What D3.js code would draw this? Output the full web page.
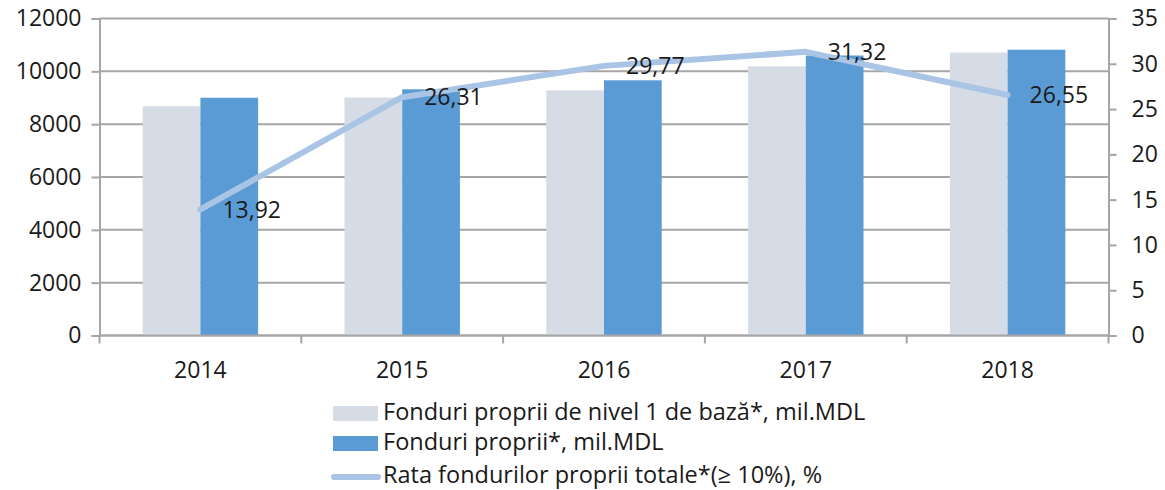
<!DOCTYPE html>
<html>
<head>
<meta charset="utf-8">
<script src="https://cdn.jsdelivr.net/npm/d3@7"></script>
<style>
  body { margin: 0; background: #fff; }
  text { font-family: "Open Sans", "Noto Sans", sans-serif; fill: #1a1a1a; }
</style>
</head>
<body>
<div class="chart"></div>
<script>
// date
var years = ["2014", "2015", "2016", "2017", "2018"];
var fonduriNivel1 = [8680, 9010, 9280, 10190, 10710];
var fonduriProprii = [9000, 9320, 9660, 10600, 10820];
var rata = [13.92, 26.31, 29.77, 31.32, 26.55];
var leftTicks = [0, 2000, 4000, 6000, 8000, 10000, 12000];
var rightTicks = [0, 5, 10, 15, 20, 25, 30, 35];
var legendNames = [
  "Fonduri proprii de nivel 1 de bază*, mil.MDL",
  "Fonduri proprii*, mil.MDL",
  "Rata fondurilor proprii totale*(≥ 10%), %"
];

var width = 1165, height = 490;
var pLeft = 99.5, pRight = 1108.5, pTop = 18.5, pBottom = 335.5;
var cLight = "#d6dce5", cBlue = "#5b9bd5", cLine = "#a9c4e4", cGrid = "#a6a6a6";
var fs = "23px";

var svg = d3.select(".chart").append("svg")
  .attr("width", width)
  .attr("height", height);

var x = d3.scaleBand().domain(years).range([pLeft, pRight]);
var y = d3.scaleLinear().domain([0, 12000]).range([pBottom, pTop]);
var y2 = d3.scaleLinear().domain([0, 35]).range([pBottom, pTop]);
var barW = x.bandwidth() * 0.286;

// grila
svg.append("g").selectAll("line").data(leftTicks).enter().append("line")
  .attr("x1", pLeft).attr("x2", pRight)
  .attr("y1", d => y(d)).attr("y2", d => y(d))
  .attr("stroke", cGrid).attr("stroke-width", 2);

// coloane
var bars = svg.append("g");
bars.selectAll(".b1").data(years).enter().append("rect")
  .attr("x", d => x(d) + x.bandwidth() / 2 - barW)
  .attr("y", (d, i) => y(fonduriNivel1[i]))
  .attr("width", barW)
  .attr("height", (d, i) => y(0) - y(fonduriNivel1[i]))
  .attr("fill", cLight);
bars.selectAll(".b2").data(years).enter().append("rect")
  .attr("x", d => x(d) + x.bandwidth() / 2)
  .attr("y", (d, i) => y(fonduriProprii[i]))
  .attr("width", barW)
  .attr("height", (d, i) => y(0) - y(fonduriProprii[i]))
  .attr("fill", cBlue);

// axe
var axL = svg.append("g").attr("transform", `translate(${pLeft},0)`)
  .call(d3.axisLeft(y).tickValues(leftTicks).tickFormat(d3.format("d")).tickSize(8).tickPadding(10));
var axR = svg.append("g").attr("transform", `translate(${pRight},0)`)
  .call(d3.axisRight(y2).tickValues(rightTicks).tickFormat(d3.format("d")).tickSize(8).tickPadding(15));
var axB = svg.append("g").attr("transform", `translate(0,${pBottom})`)
  .call(d3.axisBottom(x).tickSize(0).tickPadding(26));
axB.select(".domain").remove();
[axL, axR].forEach(function (a) {
  a.select(".domain").attr("stroke", cGrid).attr("stroke-width", 2);
  a.selectAll(".tick line").attr("stroke", cGrid).attr("stroke-width", 2);
});
svg.selectAll(".tick text")
  .style("font-size", fs)
  .style("font-family", "'Open Sans', sans-serif")
  .attr("fill", "#1a1a1a");

// linia de baza si diviziuni categorii
svg.append("line").attr("x1", pLeft).attr("x2", pRight)
  .attr("y1", pBottom).attr("y2", pBottom)
  .attr("stroke", cGrid).attr("stroke-width", 2);
var bounds = years.map(d => x(d)).concat([pRight]);
svg.append("g").selectAll("line").data(bounds).enter().append("line")
  .attr("x1", d => d).attr("x2", d => d)
  .attr("y1", pBottom).attr("y2", pBottom + 8)
  .attr("stroke", cGrid).attr("stroke-width", 2);

// linia rata
var line = d3.line()
  .x((d, i) => x(years[i]) + x.bandwidth() / 2)
  .y(d => y2(d));
svg.append("path").datum(rata)
  .attr("d", line)
  .attr("fill", "none")
  .attr("stroke", cLine)
  .attr("stroke-width", 6)
  .attr("stroke-linecap", "round")
  .attr("stroke-linejoin", "round");

svg.append("g").selectAll("text").data(rata).enter().append("text")
  .attr("x", (d, i) => x(years[i]) + x.bandwidth() / 2 + 22)
  .attr("y", d => y2(d) + 2)
  .attr("dominant-baseline", "middle")
  .style("font-size", fs)
  .text(d => d.toFixed(2).replace(".", ","));

// legenda
var lg = svg.append("g");
var rows = [413, 443, 476];
lg.append("rect").attr("x", 333).attr("y", rows[0] - 7).attr("width", 45).attr("height", 15).attr("fill", cLight);
lg.append("rect").attr("x", 333).attr("y", rows[1] - 7).attr("width", 45).attr("height", 15).attr("fill", cBlue);
lg.append("line").attr("x1", 334).attr("x2", 378).attr("y1", rows[2] + 1).attr("y2", rows[2] + 1)
  .attr("stroke", cLine).attr("stroke-width", 6).attr("stroke-linecap", "round");
lg.selectAll("text").data(legendNames).enter().append("text")
  .attr("x", 383)
  .attr("y", (d, i) => rows[i] + 1)
  .attr("dominant-baseline", "middle")
  .style("font-size", "23.5px")
  .text(d => d);
</script>
</body>
</html>
